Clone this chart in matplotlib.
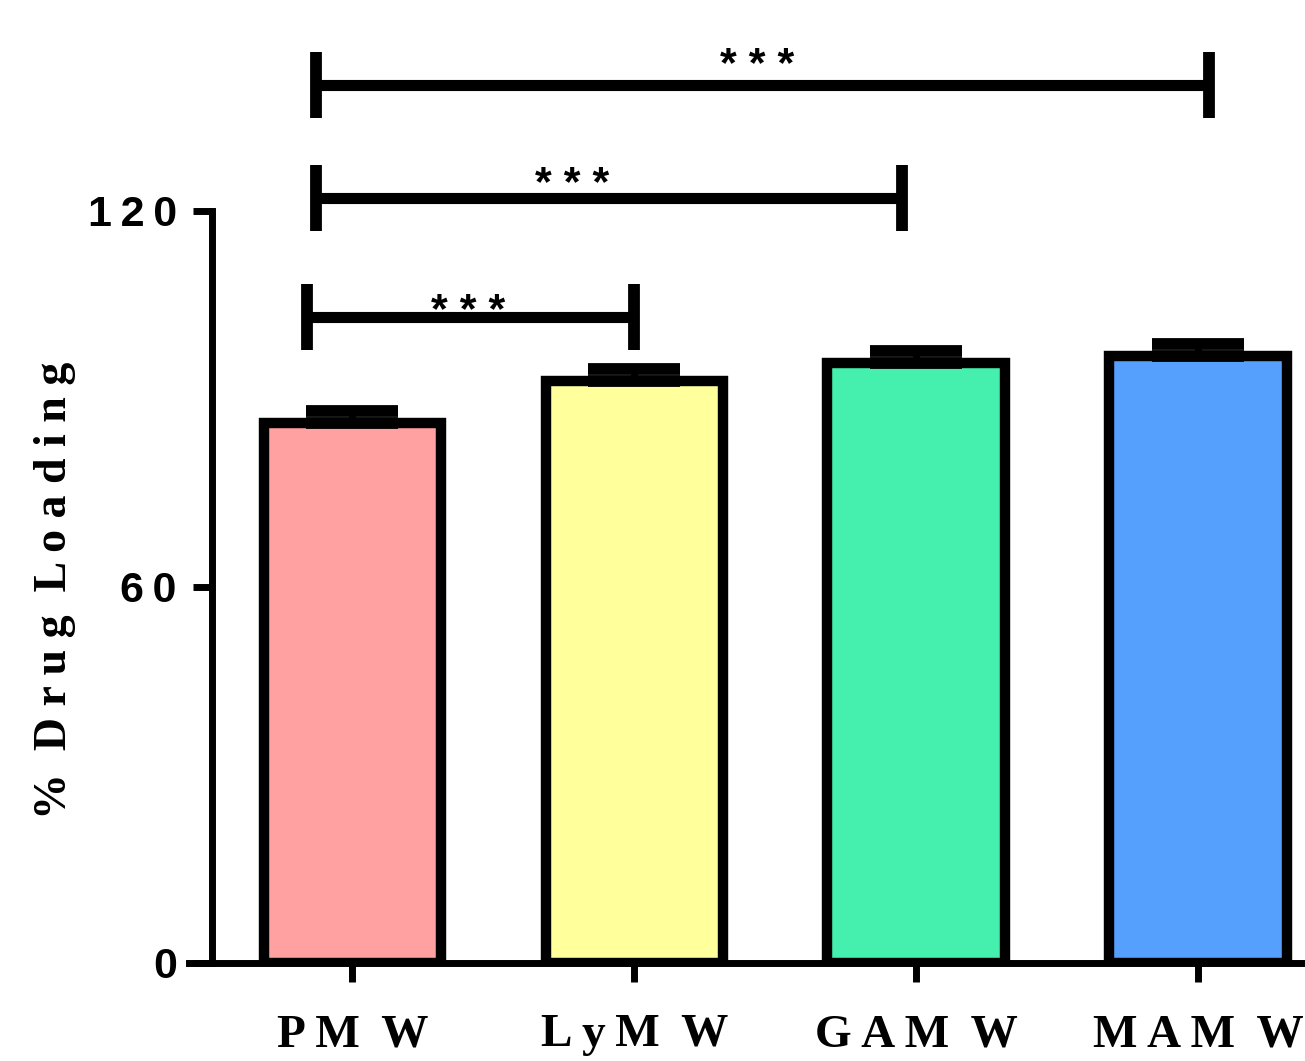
import matplotlib
matplotlib.use("Agg")
import matplotlib.pyplot as plt

# data
groups = ["PM W", "LyM W", "GAM W", "MAM W"]
loading = [86.2, 92.9, 95.7, 96.9]
sem = [1.9, 1.9, 1.9, 1.9]
colors = ["#ffa1a1", "#ffff9c", "#45f0af", "#55a0fc"]
yticks = [0, 60, 120]

# significance brackets: (left x, right x, bracket height, label x, label y, label)
brackets = [(-0.16, 1.0, 103.1, 0.41, 105.5, "***"),
            (-0.13, 1.95, 122.1, 0.78, 125.7, "***"),
            (-0.13, 3.04, 140.1, 1.435, 144.7, "***")]
bracket_drop = 5.3


def spaced(s, gap="\u2009", word=" \u2009"):
    # mimic the wide letter spacing of the original figure
    return word.join(gap.join(w) for w in s.split(" "))


fig = plt.figure(figsize=(13.05, 10.61), dpi=100)
ax = fig.add_axes([189 / 1305, 1 - 963 / 1061, 1 - 189 / 1305, 940 / 1061])

x = range(len(groups))
ax.bar(x, loading, width=0.63, color=colors, edgecolor="black", linewidth=7.5, zorder=2)
ax.errorbar(x, loading, yerr=[[0] * len(sem), sem], fmt="none", ecolor="black",
            elinewidth=5, capsize=33, capthick=8.5, zorder=3)

for x0, x1, h, tx, ty, lab in brackets:
    ax.plot([x0, x1], [h, h], color="black", lw=8, solid_capstyle="butt", clip_on=False)
    for xe in (x0, x1):
        ax.plot([xe, xe], [h - bracket_drop, h + bracket_drop], color="black", lw=8.5,
                solid_capstyle="butt", clip_on=False)
    ax.text(tx, ty - 4.8, " ".join(lab), ha="center", va="bottom",
            fontsize=31, fontweight="bold", family="Liberation Sans")

ax.set_xlim(-0.58, 3.38)
ax.set_ylim(0, 150)

for side in ("top", "right"):
    ax.spines[side].set_visible(False)
ax.spines["left"].set_position(("data", -0.5))
ax.spines["left"].set_bounds(0, 120)
ax.spines["left"].set_linewidth(5)
ax.spines["bottom"].set_linewidth(5)

ax.set_yticks(yticks)
ax.set_yticklabels(["\u2009".join(str(v)) for v in yticks], fontsize=31, fontweight="bold",
                   family="Liberation Sans")
ax.set_xticks(list(x))
ax.set_xticklabels([spaced(g) for g in groups], fontsize=34, fontweight="bold",
                   family="Liberation Serif")
ax.tick_params(axis="y", length=14, width=5, pad=11)
ax.tick_params(axis="x", length=14, width=5, pad=23)

ax.set_ylabel(spaced("% Drug Loading", gap=" ", word="  "), fontsize=33,
              fontweight="bold", family="Liberation Serif")
ax.yaxis.set_label_coords(-0.101, 0.397)

fig.savefig("out.png", dpi=100)
